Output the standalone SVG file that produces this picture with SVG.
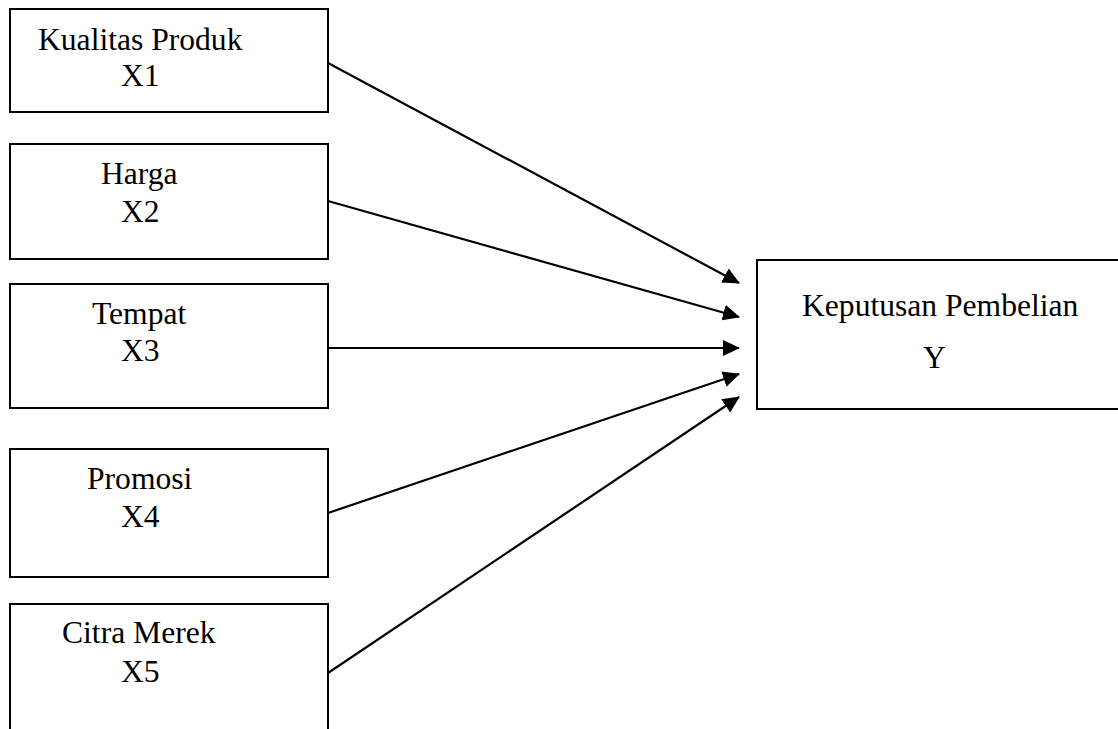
<svg xmlns="http://www.w3.org/2000/svg" width="1118" height="729" viewBox="0 0 1118 729">
<style>
.box{fill:#fff;stroke:#000;stroke-width:2}
.t{font-family:"Liberation Serif","Times New Roman",serif;font-size:31.6px;fill:#000}
.c{stroke:#000;stroke-width:2.2;fill:none}
</style>
<defs>
<marker id="ah" markerUnits="userSpaceOnUse" markerWidth="20" markerHeight="16" refX="16" refY="8" orient="auto">
<path d="M0,0 L17,8 L0,16 Z" fill="#000"/>
</marker>
</defs>
<rect width="1118" height="729" fill="#fff"/>
<g id="n1"><rect class="box" x="10" y="9" width="318" height="103"/><text class="t" x="38" y="50">Kualitas Produk</text><text class="t" x="121" y="86">X1</text></g>
<g id="n2"><rect class="box" x="10" y="144" width="318" height="115"/><text class="t" x="101" y="184">Harga</text><text class="t" x="121" y="222">X2</text></g>
<g id="n3"><rect class="box" x="10" y="284" width="318" height="124"/><text class="t" x="92" y="324">Tempat</text><text class="t" x="121" y="361">X3</text></g>
<g id="n4"><rect class="box" x="10" y="449" width="318" height="128"/><text class="t" x="87" y="489">Promosi</text><text class="t" x="121" y="527">X4</text></g>
<g id="n5"><rect class="box" x="10" y="604" width="318" height="140"/><text class="t" x="62" y="643">Citra Merek</text><text class="t" x="121" y="682">X5</text></g>
<g id="ny"><rect class="box" x="757" y="260" width="370" height="149"/><text class="t" x="802" y="316">Keputusan Pembelian</text><text class="t" x="923" y="368">Y</text></g>
<g id="connectors">
<line class="c" x1="328" y1="63" x2="739" y2="283" marker-end="url(#ah)"/>
<line class="c" x1="328" y1="201" x2="739" y2="317" marker-end="url(#ah)"/>
<line class="c" x1="328" y1="348" x2="739" y2="348" marker-end="url(#ah)"/>
<line class="c" x1="328" y1="513" x2="739" y2="374" marker-end="url(#ah)"/>
<line class="c" x1="328" y1="673" x2="739" y2="397" marker-end="url(#ah)"/>
</g>
</svg>
